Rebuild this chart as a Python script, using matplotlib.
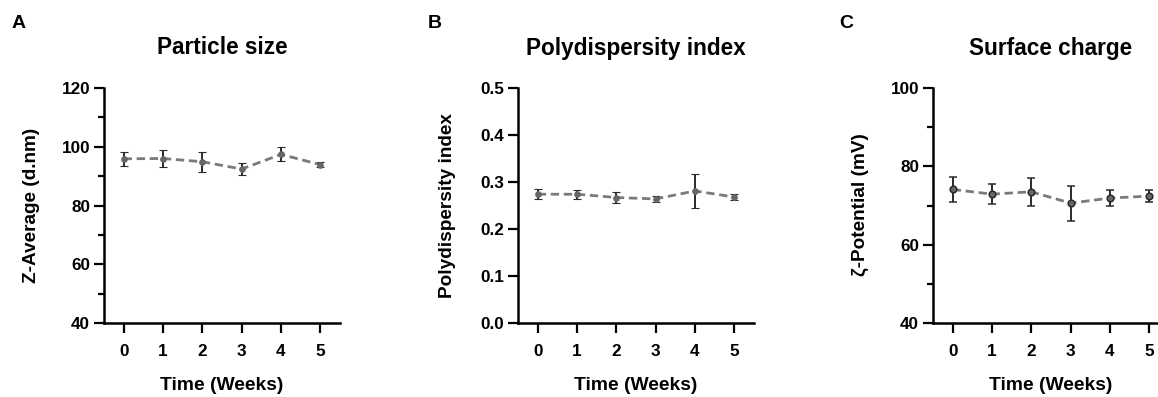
import numpy as np
import matplotlib.pyplot as plt
from matplotlib.ticker import MultipleLocator

plt.rcParams['font.family'] = ['Liberation Sans', 'DejaVu Sans']
plt.rcParams['font.weight'] = 'bold'

weeks = [0, 1, 2, 3, 4, 5]
z_avg = [95.9, 96.0, 94.9, 92.4, 97.4, 93.9]
z_err = [2.4, 2.8, 3.4, 2.0, 2.4, 0.8]
pdi = [0.274, 0.274, 0.267, 0.264, 0.281, 0.268]
pdi_err = [0.011, 0.010, 0.011, 0.006, 0.036, 0.007]
zeta = [74.1, 72.9, 73.5, 70.6, 71.9, 72.4]
zeta_err = [3.1, 2.5, 3.5, 4.5, 2.0, 1.6]

fig = plt.figure(figsize=(11.58, 3.97), dpi=100)
W, H = 1158, 397
panels = [
    (104, z_avg, z_err, 'Particle size', 'Z-Average (d.nm)', [40, 60, 80, 100, 120], 10, 'A', 19, 32),
    (518, pdi, pdi_err, 'Polydispersity index', 'Polydispersity index', [0.0, 0.1, 0.2, 0.3, 0.4, 0.5], None, 'B', 435, 447),
    (933, zeta, zeta_err, 'Surface charge', 'ζ-Potential (mV)', [40, 60, 80, 100], 10, 'C', 846, 860),
]
for left, vals, errs, title, ylab, yt, minor, letter, lx, ylx in panels:
    ax = fig.add_axes([left / W, 1 - 323 / H, 236 / W, 235 / H])
    # marker look differs a bit between the panels
    if letter == 'C':
        mk = dict(ms=4.8, mfc='#666666', mec='#2a2a2a', mew=1.1)
    else:
        mk = dict(ms=4, mfc='#666666', mec='#666666', mew=0.8)
    ax.errorbar(weeks, vals, yerr=errs, color='#7a7a7a', ls=(0, (3, 1.7)), lw=2,
                marker='o', ecolor='#2a2a2a', elinewidth=1.4, capsize=3,
                capthick=1.4, **mk)
    ax.set_xlim(-0.5, 5.5)
    ax.set_ylim(yt[0], yt[-1])
    ax.set_xticks(weeks)
    ax.set_yticks(yt)
    if letter == 'B':
        ax.set_yticklabels([f'{v:.1f}' for v in yt])
    if minor:
        ax.yaxis.set_minor_locator(MultipleLocator(minor))
    for s in ['top', 'right']:
        ax.spines[s].set_visible(False)
    for s in ['left', 'bottom']:
        ax.spines[s].set_linewidth(1.8)
    ax.tick_params(which='major', length=7, width=1.6, labelsize=12.3, pad=3)
    ax.tick_params(which='minor', length=4, width=1.6)
    ax.tick_params(axis='x', pad=8)
    fig.text(ylx / W, 1 - 205 / H, ylab, fontsize=13.7, fontweight='bold',
             rotation=90, ha='center', va='center')
    fig.text((left + 118) / W, 1 - 385 / H, 'Time (Weeks)', fontsize=13.9,
             fontweight='bold', ha='center', va='center')
    fig.text((left + 118) / W, 1 - 48 / H, title, fontsize=16.3, fontweight='bold',
             ha='center', va='center')
    fig.text(lx / W, 1 - 24 / H, letter, fontsize=14, fontweight='bold',
             ha='center', va='center')

plt.savefig('out.png', dpi=100)
